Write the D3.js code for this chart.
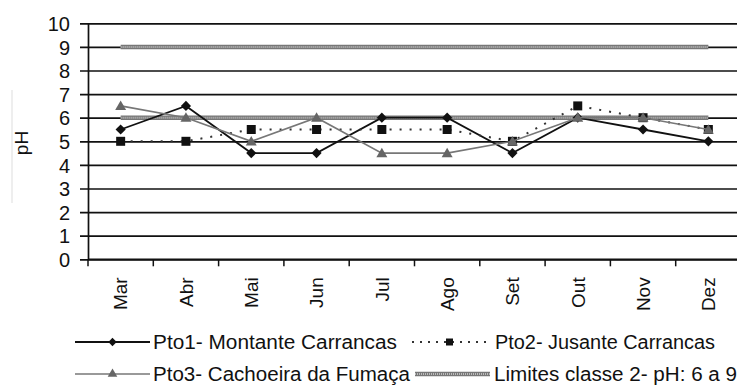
<!DOCTYPE html>
<html><head><meta charset="utf-8">
<script src="https://cdn.jsdelivr.net/npm/d3@7/dist/d3.min.js"></script>
<style>html,body{margin:0;padding:0;background:#fff;overflow:hidden}</style>
</head><body><div id="chart"></div>
<script>
const months = ["Mar","Abr","Mai","Jun","Jul","Ago","Set","Out","Nov","Dez"];
const pto1 = [5.5,6.5,4.5,4.5,6.0,6.0,4.5,6.0,5.5,5.0];
const pto2 = [5.0,5.0,5.5,5.5,5.5,5.5,5.0,6.5,6.0,5.5];
const pto3 = [6.5,6.0,5.0,6.0,4.5,4.5,5.0,6.0,6.0,5.5];
const limInf = [6,6,6,6,6,6,6,6,6,6];
const limSup = [9,9,9,9,9,9,9,9,9,9];
const yTicks = [0,1,2,3,4,5,6,7,8,9,10];
const legendNames = ["Pto1- Montante Carrancas","Pto2- Jusante Carrancas","Pto3- Cachoeira da Fumaça","Limites classe 2- pH: 6 a 9"];

(function(){
const W=737,H=387;
const svg=d3.select("#chart").append("svg").attr("width",W).attr("height",H);
const mLeft=88, mRight=741, mTop=23.3, mBottom=259.3;
const x=d3.scaleBand().domain(months).range([mLeft,mRight]).paddingInner(0).paddingOuter(0);
const cx=m=>x(m)+x.bandwidth()/2;
const y=d3.scaleLinear().domain([0,10]).range([mBottom,mTop]);
const font="'Liberation Sans', Arial, sans-serif";

svg.append("line").attr("x1",12).attr("x2",12).attr("y1",90).attr("y2",203).attr("stroke","#ddd").attr("stroke-width",1);

const grid=svg.append("g").attr("transform",`translate(${mLeft},0)`)
  .call(d3.axisLeft(y).tickValues(yTicks).tickSize(-(W-mLeft)).tickFormat(""));
grid.select(".domain").remove();
grid.selectAll("line").attr("stroke","#111").attr("stroke-width",1.7).attr("x1",-8);

const yax=svg.append("g").attr("transform",`translate(${mLeft},0)`)
  .call(d3.axisLeft(y).tickValues(yTicks).tickSize(0).tickPadding(18));
yax.select(".domain").attr("stroke","#111").attr("stroke-width",1.7);
yax.selectAll("text").attr("font-family",font).attr("font-size",20).attr("fill","#111").attr("dy","0.36em");

const xax=svg.append("g").attr("transform",`translate(0,${mBottom})`);
xax.append("line").attr("x1",mLeft).attr("x2",W).attr("y1",0).attr("y2",0).attr("stroke","#111").attr("stroke-width",1.7);
xax.selectAll("line.tk").data(months).join("line").attr("class","tk")
  .attr("x1",d=>x(d)).attr("x2",d=>x(d)).attr("y1",0).attr("y2",7).attr("stroke","#111").attr("stroke-width",1.5);
xax.selectAll("text").data(months).join("text")
  .attr("transform",d=>`translate(${cx(d)},18) rotate(-90)`)
  .attr("text-anchor","end").attr("dy","0.36em")
  .attr("font-family",font).attr("font-size",19).attr("fill","#111").text(d=>d);

svg.append("text").attr("transform","translate(21,143) rotate(-90)")
  .attr("text-anchor","middle").attr("dy","0.36em").attr("font-family",font).attr("font-size",19).attr("fill","#111").text("pH");

const line=d3.line().x((d,i)=>cx(months[i])).y(d=>y(d));

[limSup,limInf].forEach(arr=>{
  svg.append("path").attr("d",line(arr)).attr("fill","none").attr("stroke","#777").attr("stroke-width",4.5);
  svg.append("path").attr("d",line(arr)).attr("fill","none").attr("stroke","#bbb").attr("stroke-width",2).attr("stroke-dasharray","1,1");
});

const diamond=d3.symbol().type(d3.symbolDiamond2).size(66);
const square=d3.symbol().type(d3.symbolSquare).size(81);
const tri=d3.symbol().type(d3.symbolTriangle).size(52);

svg.append("path").attr("d",line(pto1)).attr("fill","none").attr("stroke","#111").attr("stroke-width",1.8);
svg.selectAll("path.p1").data(pto1).join("path").attr("class","p1").attr("d",diamond)
  .attr("transform",(d,i)=>`translate(${cx(months[i])},${y(d)})`).attr("fill","#111");
svg.append("path").attr("d",line(pto2)).attr("fill","none").attr("stroke","#333").attr("stroke-width",2).attr("stroke-dasharray","2,8");
svg.selectAll("path.p2").data(pto2).join("path").attr("class","p2").attr("d",square)
  .attr("transform",(d,i)=>`translate(${cx(months[i])},${y(d)})`).attr("fill","#111");
svg.append("path").attr("d",line(pto3)).attr("fill","none").attr("stroke","#777").attr("stroke-width",1.6);
svg.selectAll("path.p3").data(pto3).join("path").attr("class","p3").attr("d",tri)
  .attr("transform",(d,i)=>`translate(${cx(months[i])},${y(d)+1})`).attr("fill","#666");

const lg=svg.append("g");
const L=[
  {x1:75,x2:150,tx:153,ty:342,w:244},
  {x1:412,x2:487,tx:495,ty:342,w:220},
  {x1:75,x2:150,tx:153,ty:374,w:257},
  {x1:415,x2:490,tx:494,ty:374,w:243}
];
L.forEach((p,i)=>{
  const mx=(p.x1+p.x2)/2;
  if(i===0){
    lg.append("line").attr("x1",p.x1).attr("x2",p.x2).attr("y1",p.ty).attr("y2",p.ty).attr("stroke","#111").attr("stroke-width",1.8);
    lg.append("path").attr("d",d3.symbol().type(d3.symbolDiamond2).size(44)).attr("transform",`translate(${mx},${p.ty})`).attr("fill","#111");
  } else if(i===1){
    lg.append("line").attr("x1",p.x1).attr("x2",p.x2).attr("y1",p.ty).attr("y2",p.ty).attr("stroke","#333").attr("stroke-width",2).attr("stroke-dasharray","2,6");
    lg.append("path").attr("d",d3.symbol().type(d3.symbolSquare).size(49)).attr("transform",`translate(${mx},${p.ty})`).attr("fill","#111");
  } else if(i===2){
    lg.append("line").attr("x1",p.x1).attr("x2",p.x2).attr("y1",p.ty).attr("y2",p.ty).attr("stroke","#777").attr("stroke-width",1.6);
    lg.append("path").attr("d",d3.symbol().type(d3.symbolTriangle).size(40)).attr("transform",`translate(${mx},${p.ty})`).attr("fill","#666");
  } else {
    lg.append("line").attr("x1",p.x1).attr("x2",p.x2).attr("y1",p.ty).attr("y2",p.ty).attr("stroke","#777").attr("stroke-width",4.5);
    lg.append("line").attr("x1",p.x1).attr("x2",p.x2).attr("y1",p.ty).attr("y2",p.ty).attr("stroke","#bbb").attr("stroke-width",2).attr("stroke-dasharray","1,1");
  }
  lg.append("text").attr("x",p.tx).attr("y",p.ty).attr("dy","0.36em")
    .attr("font-family",font).attr("font-size",20).attr("fill","#111")
    .attr("textLength",p.w).attr("lengthAdjust","spacingAndGlyphs").text(legendNames[i]);
});
})();
</script></body></html>
